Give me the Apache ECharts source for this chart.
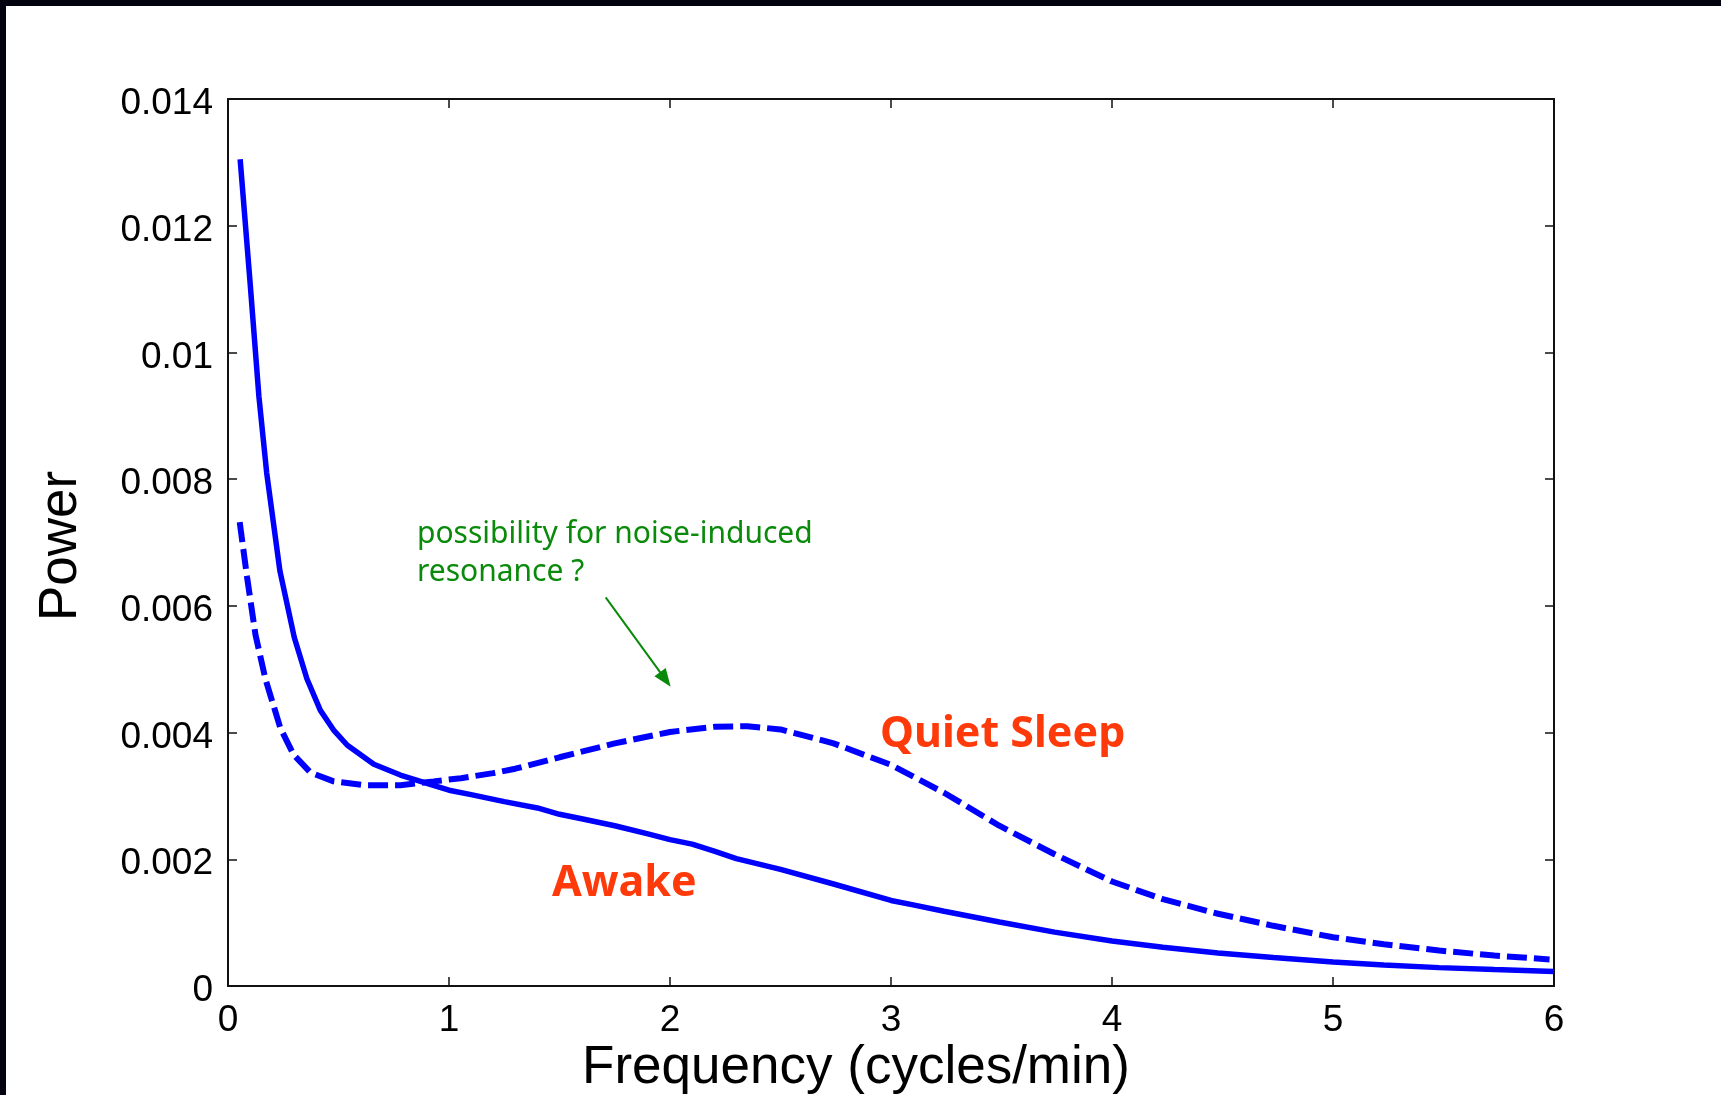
<!DOCTYPE html>
<html>
<head>
<meta charset="utf-8">
<script src="https://cdn.jsdelivr.net/npm/echarts@6/dist/echarts.min.js"></script>
<style>
  html, body { margin: 0; padding: 0; background: #ffffff; }
  #chart { width: 1721px; height: 1095px; }
</style>
</head>
<body>
<div id="chart"></div>
<script>
// Power spectra: awake (solid) and quiet sleep (dashed)
const awakeFreq  = [0.055, 0.10, 0.14, 0.175, 0.235, 0.30, 0.357, 0.418, 0.48, 0.54, 0.66, 0.78, 0.90, 1.0, 1.1, 1.25, 1.4, 1.5, 1.6, 1.75, 1.9, 2.0, 2.1, 2.2, 2.3, 2.5, 2.74, 3.0, 3.1, 3.24, 3.49, 3.74, 4.0, 4.23, 4.48, 4.73, 5.0, 5.23, 5.48, 5.73, 6.0];
const awakePower = [0.01305, 0.0111, 0.0093, 0.0081, 0.00655, 0.0055, 0.00485, 0.00435, 0.00403, 0.0038, 0.0035, 0.00333, 0.0032, 0.00309, 0.00302, 0.00291, 0.00281, 0.00271, 0.00264, 0.00253, 0.0024, 0.00231, 0.00224, 0.00213, 0.00201, 0.00184, 0.00161, 0.00135, 0.00128, 0.00118, 0.00101, 0.00085, 0.00071, 0.00061, 0.00052, 0.00045, 0.00038, 0.00033, 0.00029, 0.00026, 0.00023];

const sleepFreq  = [0.053, 0.086, 0.124, 0.169, 0.237, 0.297, 0.373, 0.478, 0.614, 0.78, 0.93, 1.054, 1.2, 1.3, 1.5, 1.75, 2.0, 2.2, 2.35, 2.5, 2.74, 3.0, 3.24, 3.49, 3.74, 4.0, 4.23, 4.48, 4.73, 5.0, 5.23, 5.48, 5.73, 5.98];
const sleepPower = [0.00732, 0.00646, 0.00555, 0.00485, 0.00407, 0.00365, 0.00337, 0.00323, 0.00317, 0.00317, 0.00323, 0.00328, 0.00336, 0.00343, 0.00361, 0.00383, 0.00401, 0.00409, 0.0041, 0.00405, 0.00383, 0.00349, 0.00305, 0.00253, 0.00208, 0.00165, 0.00137, 0.00114, 0.00095, 0.00077, 0.00066, 0.00056, 0.00048, 0.00042];

const xTickLabels = ['0', '1', '2', '3', '4', '5', '6'];
const yTickLabels = ['0', '0.002', '0.004', '0.006', '0.008', '0.01', '0.012', '0.014'];

// Annotation anchors, in (frequency, power) units
const awakeLabelAt = [1.466, 0.00162];
const sleepLabelAt = [2.95, 0.00396];
const noteAt       = [0.855, 0.00742];
const arrowFrom    = [1.709, 0.006135];
const arrowTo      = [1.979, 0.00484];

const TICK_FONT = 'Liberation Sans, Arial, Helvetica, sans-serif';
const frame = { color: '#111111', width: 2 };
const tick = { show: true, inside: true, length: 9, lineStyle: { color: '#111111', width: 1.5 } };

const chart = echarts.init(document.getElementById('chart'), null, { renderer: 'canvas' });

function axisX(pos, withLabels) {
  return {
    type: 'value', min: 0, max: 6, interval: 1, position: pos,
    axisLine: { show: true, onZero: false, lineStyle: frame },
    axisTick: tick,
    splitLine: { show: false },
    axisLabel: withLabels ? {
      show: true, margin: 16, color: '#000', fontSize: 37, fontFamily: TICK_FONT,
      formatter: v => xTickLabels[Math.round(v)]
    } : { show: false }
  };
}
function axisY(pos, withLabels) {
  return {
    type: 'value', min: 0, max: 0.014, interval: 0.002, position: pos,
    axisLine: { show: true, onZero: false, lineStyle: frame },
    axisTick: tick,
    splitLine: { show: false },
    axisLabel: withLabels ? {
      show: true, margin: 15, color: '#000', fontSize: 37, fontFamily: TICK_FONT,
      formatter: v => '{t|' + yTickLabels[Math.round(v / 0.002)] + '}',
      rich: { t: { fontSize: 37, fontFamily: TICK_FONT, color: '#000', padding: [10, 0, 0, 0] } }
    } : { show: false }
  };
}

chart.setOption({
  animation: false,
  backgroundColor: '#ffffff',
  grid: { left: 228, top: 99, right: 167, bottom: 109, containLabel: false },
  xAxis: [axisX('bottom', true), axisX('top', false)],
  yAxis: [axisY('left', true), axisY('right', false)],
  series: [
    {
      name: 'Awake', type: 'line', xAxisIndex: 0, yAxisIndex: 0,
      showSymbol: false, symbol: 'none',
      lineStyle: { color: '#0000ff', width: 5.5, type: 'solid' },
      data: awakeFreq.map((f, i) => [f, awakePower[i]])
    },
    {
      name: 'Quiet Sleep', type: 'line', xAxisIndex: 0, yAxisIndex: 0,
      showSymbol: false, symbol: 'none',
      lineStyle: { color: '#0000ff', width: 6, type: [20, 7] },
      data: sleepFreq.map((f, i) => [f, sleepPower[i]]),
      markLine: {
        silent: true, symbol: ['none', 'triangle'], symbolSize: [14, 18],
        label: { show: false },
        lineStyle: { color: '#0a8a0a', width: 2, type: 'solid' },
        data: [[{ coord: arrowFrom }, { coord: arrowTo }]]
      }
    }
  ]
});

const px = p => chart.convertToPixel({ xAxisIndex: 0, yAxisIndex: 0 }, p);
const pSleep = px(sleepLabelAt);
const pAwake = px(awakeLabelAt);
const pNote = px(noteAt);

chart.setOption({
  graphic: [
    // dark frame strips along the top and left edges
    { type: 'rect', left: 0, top: 0, shape: { width: 1721, height: 6 }, style: { fill: '#03030f' }, z: 100 },
    { type: 'rect', left: 0, top: 0, shape: { width: 6, height: 1095 }, style: { fill: '#03030f' }, z: 100 },
    // axis titles
    {
      type: 'text', x: 856, y: 1068, z: 100,
      style: { text: 'Frequency (cycles/min)', fill: '#000', font: '53px ' + TICK_FONT, textAlign: 'center', textVerticalAlign: 'middle' }
    },
    {
      type: 'text', x: 61, y: 546, rotation: Math.PI / 2, z: 100,
      style: { text: 'Power', fill: '#000', font: '53px ' + TICK_FONT, textAlign: 'center', textVerticalAlign: 'middle' }
    },
    // curve labels
    {
      type: 'text', x: pSleep[0], y: pSleep[1], z: 100,
      style: { text: 'Quiet Sleep', fill: '#ff3a0a', font: 'bold 43px "Noto Sans", sans-serif', textAlign: 'left', textVerticalAlign: 'middle' }
    },
    {
      type: 'text', x: pAwake[0], y: pAwake[1], z: 100,
      style: { text: 'Awake', fill: '#ff3a0a', font: 'bold 43px "Noto Sans", sans-serif', textAlign: 'left', textVerticalAlign: 'middle' }
    },
    {
      type: 'text', x: pNote[0], y: pNote[1], z: 100,
      style: { text: 'possibility for noise-induced\nresonance ?', fill: '#0a8a0a', font: '30px "Noto Sans", sans-serif', lineHeight: 38, textAlign: 'left', textVerticalAlign: 'top' }
    }
  ]
});
</script>
</body>
</html>
